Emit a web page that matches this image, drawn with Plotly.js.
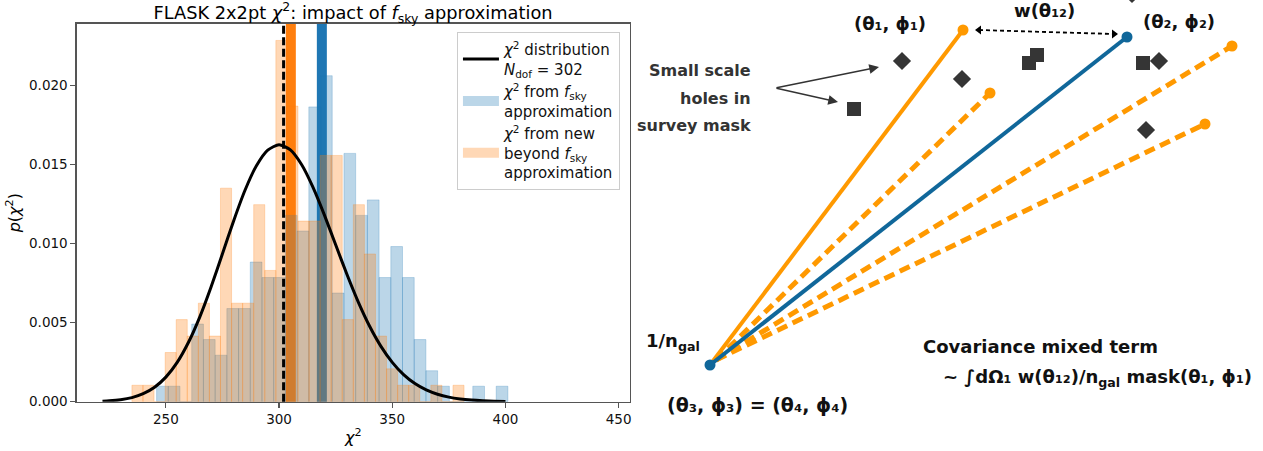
<!DOCTYPE html>
<html>
<head>
<meta charset="utf-8">
<script src="https://cdn.plot.ly/plotly-3.0.1.min.js"></script>
<style>
  html, body { margin: 0; padding: 0; background: #fff; }
  #chart { width: 1263px; height: 451px; }
</style>
</head>
<body>
<div id="chart"></div>
<script>
// ---- Left panel: FLASK 2x2pt chi^2 histograms (density normalised, 30 bins each) ----
const fskyBinWidth = 5.173;
const fskyBinCenters = [248.49, 253.66, 258.83, 264.01, 269.18, 274.35, 279.52, 284.70, 289.87, 295.04,
                        300.21, 305.39, 310.56, 315.73, 320.90, 326.08, 331.25, 336.42, 341.59, 346.77,
                        351.94, 357.11, 362.28, 367.46, 372.63, 377.80, 382.97, 388.15, 393.32, 398.49];
const fskyDensity = [0.00098, 0.00098, 0, 0.00491, 0.00393, 0.00294, 0.00589, 0.00589, 0.00883, 0.00785,
                     0.00785, 0.01178, 0.01079, 0.01864, 0.02061, 0.00687, 0.01570, 0.01178, 0.01276, 0.00785,
                     0.00981, 0.00785, 0.00393, 0.00196, 0.00098, 0, 0, 0.00098, 0, 0.00098];

const newBinWidth = 4.89;
const newBinCenters = [237.45, 242.34, 247.23, 252.12, 257.01, 261.90, 266.79, 271.68, 276.57, 281.46,
                       286.35, 291.24, 296.13, 301.02, 305.91, 310.80, 315.69, 320.58, 325.47, 330.36,
                       335.25, 340.14, 345.03, 349.92, 354.81, 359.70, 364.59, 369.48, 374.37, 379.26];
const newDensity = [0.00104, 0.00104, 0, 0.00311, 0.00519, 0.00415, 0.00623, 0.00415, 0.01350, 0.00623,
                    0.00623, 0.01246, 0.00830, 0.02284, 0.01869, 0.01142, 0.01142, 0.01557, 0.01557, 0.00519,
                    0.01246, 0.00934, 0.00415, 0.00208, 0.00104, 0.00104, 0, 0.00104, 0, 0.00104];

// chi^2 distribution curve for N_dof = 302
const chi2X = [222, 225, 230, 235, 240, 245, 250, 255, 260, 265, 270, 275, 280, 285, 290, 295, 300,
               305, 310, 315, 320, 325, 330, 335, 340, 345, 350, 355, 360, 365, 370, 375, 380, 385, 390, 395, 400];
const chi2Pdf = [0.000034, 0.000057, 0.000127, 0.000261, 0.000505, 0.000913, 0.001553, 0.002485, 0.003756,
                 0.005366, 0.007272, 0.009358, 0.011463, 0.013385, 0.014921, 0.015910, 0.016250,
                 0.015920, 0.014980, 0.013550, 0.011810, 0.009920, 0.008040, 0.006300, 0.004770, 0.003500,
                 0.002487, 0.001713, 0.001146, 0.000745, 0.000471, 0.000289, 0.000173, 0.000101, 0.000058,
                 0.000032, 0.000017];

const NDOF = 302;
const meanChi2Fsky = 318.9;
const meanChi2New = 305.2;

const xTicks = [250, 300, 350, 400, 450];
const yTicks = [0, 0.005, 0.010, 0.015, 0.020];

// ---- Right panel: sketch of the mixed covariance term (sketch coordinates) ----
const origin = {x: [710], y: [365]};              // (θ3, ϕ3) = (θ4, ϕ4)
const point1 = {x: [963], y: [30]};               // (θ1, ϕ1)
const point2 = {x: [1127], y: [37]};              // (θ2, ϕ2)
const dashedEnds = {x: [990, 1232, 1205], y: [93, 46, 124]};
const dashedStart = {x: 716, y: 360};
const diamondHoles = {x: [902, 962, 1159, 1146, 1132], y: [61, 79, 61, 130, -6]};
const squareHoles = {x: [854, 1029, 1037, 1143], y: [109, 63, 55, 63]};
const holeLabelAnchor = {x: 775, y: 88};
const holeArrowTips = {x: [879, 838], y: [67, 102]};
const separation = {x: [979, 1114], y: [30, 34]};

const ORANGE = '#ff9900';
const BLUE = '#10679a';
const HOLE = '#353535';

const traces = [];

// histograms
traces.push({
  type: 'bar', x: fskyBinCenters, y: fskyDensity, width: fskyBinWidth,
  marker: {color: 'rgba(31,119,180,0.3)', line: {width: 0.8, color: 'rgba(31,119,180,0.3)'}},
  xaxis: 'x', yaxis: 'y', showlegend: false, hoverinfo: 'skip'
});
traces.push({
  type: 'bar', x: newBinCenters, y: newDensity, width: newBinWidth,
  marker: {color: 'rgba(255,127,14,0.3)', line: {width: 0.8, color: 'rgba(255,127,14,0.3)'}},
  xaxis: 'x', yaxis: 'y', showlegend: false, hoverinfo: 'skip'
});
// chi^2 pdf
traces.push({
  type: 'scatter', mode: 'lines', x: chi2X, y: chi2Pdf,
  line: {color: '#000', width: 3, shape: 'spline', smoothing: 0.6},
  name: '<i>χ</i><sup>2</sup> distribution<br><i>N</i><sub>dof</sub> = 302',
  xaxis: 'x', yaxis: 'y'
});
// legend handles for the two histograms
traces.push({
  type: 'scatter', mode: 'lines', x: [null], y: [null],
  line: {color: 'rgba(31,119,180,0.3)', width: 10},
  name: '<i>χ</i><sup>2</sup> from <i>f</i><sub>sky</sub><br>approximation',
  xaxis: 'x', yaxis: 'y'
});
traces.push({
  type: 'scatter', mode: 'lines', x: [null], y: [null],
  line: {color: 'rgba(255,127,14,0.3)', width: 10},
  name: '<i>χ</i><sup>2</sup> from new<br>beyond <i>f</i><sub>sky</sub><br>approximation',
  xaxis: 'x', yaxis: 'y'
});

// sketch: lines from the shared point
traces.push({
  type: 'scatter', mode: 'lines',
  x: [origin.x[0], point1.x[0]], y: [origin.y[0], point1.y[0]],
  line: {color: ORANGE, width: 4}, xaxis: 'x2', yaxis: 'y2', showlegend: false, hoverinfo: 'skip'
});
const dX = [], dY = [];
dashedEnds.x.forEach((ex, i) => { dX.push(dashedStart.x, ex, null); dY.push(dashedStart.y, dashedEnds.y[i], null); });
traces.push({
  type: 'scatter', mode: 'lines', x: dX, y: dY,
  line: {color: ORANGE, width: 5, dash: '11px,6px'}, xaxis: 'x2', yaxis: 'y2', showlegend: false, hoverinfo: 'skip'
});
traces.push({
  type: 'scatter', mode: 'markers',
  x: point1.x.concat(dashedEnds.x), y: point1.y.concat(dashedEnds.y),
  marker: {color: ORANGE, size: 11}, xaxis: 'x2', yaxis: 'y2', showlegend: false, hoverinfo: 'skip'
});
traces.push({
  type: 'scatter', mode: 'lines+markers',
  x: [origin.x[0], point2.x[0]], y: [origin.y[0], point2.y[0]],
  line: {color: BLUE, width: 4}, marker: {color: BLUE, size: 11},
  xaxis: 'x2', yaxis: 'y2', showlegend: false, hoverinfo: 'skip'
});
// holes in the survey mask
traces.push({
  type: 'scatter', mode: 'markers', x: diamondHoles.x, y: diamondHoles.y,
  marker: {symbol: 'diamond', color: HOLE, size: 14}, xaxis: 'x2', yaxis: 'y2', showlegend: false, hoverinfo: 'skip'
});
traces.push({
  type: 'scatter', mode: 'markers', x: squareHoles.x, y: squareHoles.y,
  marker: {symbol: 'square', color: HOLE, size: 14}, xaxis: 'x2', yaxis: 'y2', showlegend: false, hoverinfo: 'skip'
});
// separation w(θ12) double arrow
traces.push({
  type: 'scatter', mode: 'lines+markers', x: separation.x, y: separation.y,
  line: {color: '#000', width: 1.8, dash: '4px,3px'},
  marker: {symbol: ['triangle-left', 'triangle-right'], color: '#000', size: 8},
  xaxis: 'x2', yaxis: 'y2', showlegend: false, hoverinfo: 'skip'
});

const sketchFont = {family: 'DejaVu Sans', size: 18, color: '#111', weight: 'bold'};
const labelFont = {family: 'DejaVu Sans', size: 16, color: '#333', weight: 'bold'};

function note(text, x, y, xanchor, font) {
  return {text: text, x: x, y: y, xref: 'x2', yref: 'y2', showarrow: false,
          xanchor: xanchor, yanchor: 'middle', font: font || sketchFont};
}

const annotations = [
  note('(θ₁, ϕ₁)', 890, 23, 'center'),
  note('(θ₂, ϕ₂)', 1179, 21, 'center'),
  note('w(θ₁₂)', 1044, 10, 'center'),
  note('Small scale', 753, 70, 'right', labelFont),
  note('holes in', 753, 98, 'right', labelFont),
  note('survey mask', 753, 125, 'right', labelFont),
  note('1/n<sub>gal</sub>', 673, 342, 'center'),
  note('(θ₃, ϕ₃) = (θ₄, ϕ₄)', 757, 405, 'center', {family: 'DejaVu Sans', size: 19, color: '#111', weight: 'bold'}),
  note('Covariance mixed term', 921, 346, 'left'),
  note('~ ∫dΩ₁ w(θ₁₂)/n<sub>gal</sub> mask(θ₁, ϕ₁)', 941, 378, 'left')
];
holeArrowTips.x.forEach((tx, i) => {
  annotations.push({
    x: tx, y: holeArrowTips.y[i], ax: holeLabelAnchor.x, ay: holeLabelAnchor.y,
    xref: 'x2', yref: 'y2', axref: 'x2', ayref: 'y2', text: '',
    showarrow: true, arrowhead: 2, arrowsize: 1.3, arrowwidth: 1.5, arrowcolor: '#333'
  });
});

const axisLine = '#555';
const layout = {
  width: 1263, height: 451,
  margin: {l: 0, r: 0, t: 0, b: 0},
  paper_bgcolor: '#fff', plot_bgcolor: 'rgba(0,0,0,0)',
  font: {family: 'DejaVu Sans', size: 13.5, color: '#111'},
  barmode: 'overlay',
  showlegend: true,
  title: {
    text: 'FLASK 2x2pt <i>χ</i><sup>2</sup>: impact of <i>f</i><sub>sky</sub> approximation',
    font: {family: 'DejaVu Sans', size: 17.8, color: '#000'},
    x: 0.2795, xanchor: 'center', y: 0.972, yanchor: 'middle'
  },
  xaxis: {
    domain: [0.0607, 0.4988], range: [210.6, 455],
    tickvals: xTicks, ticks: 'outside', ticklen: 5, tickwidth: 1.2, tickcolor: axisLine,
    showline: true, mirror: true, linecolor: axisLine, linewidth: 1.3,
    showgrid: false, zeroline: false,
    title: {text: '<i>χ</i><sup>2</sup>', font: {size: 16, color: '#000'}, standoff: 5}
  },
  yaxis: {
    domain: [0.1093, 0.9475], range: [0, 0.0239],
    tickvals: yTicks, tickformat: '.3f', ticks: 'outside', ticklen: 5, tickwidth: 1.2, tickcolor: axisLine,
    showline: true, mirror: true, linecolor: axisLine, linewidth: 1.3,
    showgrid: false, zeroline: false,
    title: {text: '<i>p</i>(<i>χ</i><sup>2</sup>)', font: {size: 16, color: '#000'}, standoff: 4}
  },
  xaxis2: {domain: [0.5, 1], range: [631.5, 1263], visible: false, fixedrange: true},
  yaxis2: {domain: [0, 1], range: [451, 0], visible: false, fixedrange: true, anchor: 'x2'},
  legend: {
    x: 0.3618, y: 0.929, xanchor: 'left', yanchor: 'top',
    bgcolor: 'rgba(255,255,255,0.85)', bordercolor: '#ccc', borderwidth: 1,
    font: {family: 'DejaVu Sans', size: 15, color: '#111'},
    valign: 'middle', itemwidth: 36
  },
  shapes: [
    {type: 'line', xref: 'x', yref: 'y domain', x0: meanChi2New, x1: meanChi2New, y0: 0, y1: 1,
     line: {color: '#ff7f0e', width: 10}, layer: 'below'},
    {type: 'line', xref: 'x', yref: 'y domain', x0: meanChi2Fsky, x1: meanChi2Fsky, y0: 0, y1: 1,
     line: {color: '#1f77b4', width: 10}, layer: 'below'},
    {type: 'line', xref: 'x', yref: 'y domain', x0: NDOF, x1: NDOF, y0: 0, y1: 1,
     line: {color: '#000', width: 3, dash: '8px,3.5px'}, layer: 'above'}
  ],
  annotations: annotations
};

Plotly.newPlot('chart', traces, layout, {staticPlot: true});
</script>
</body>
</html>
